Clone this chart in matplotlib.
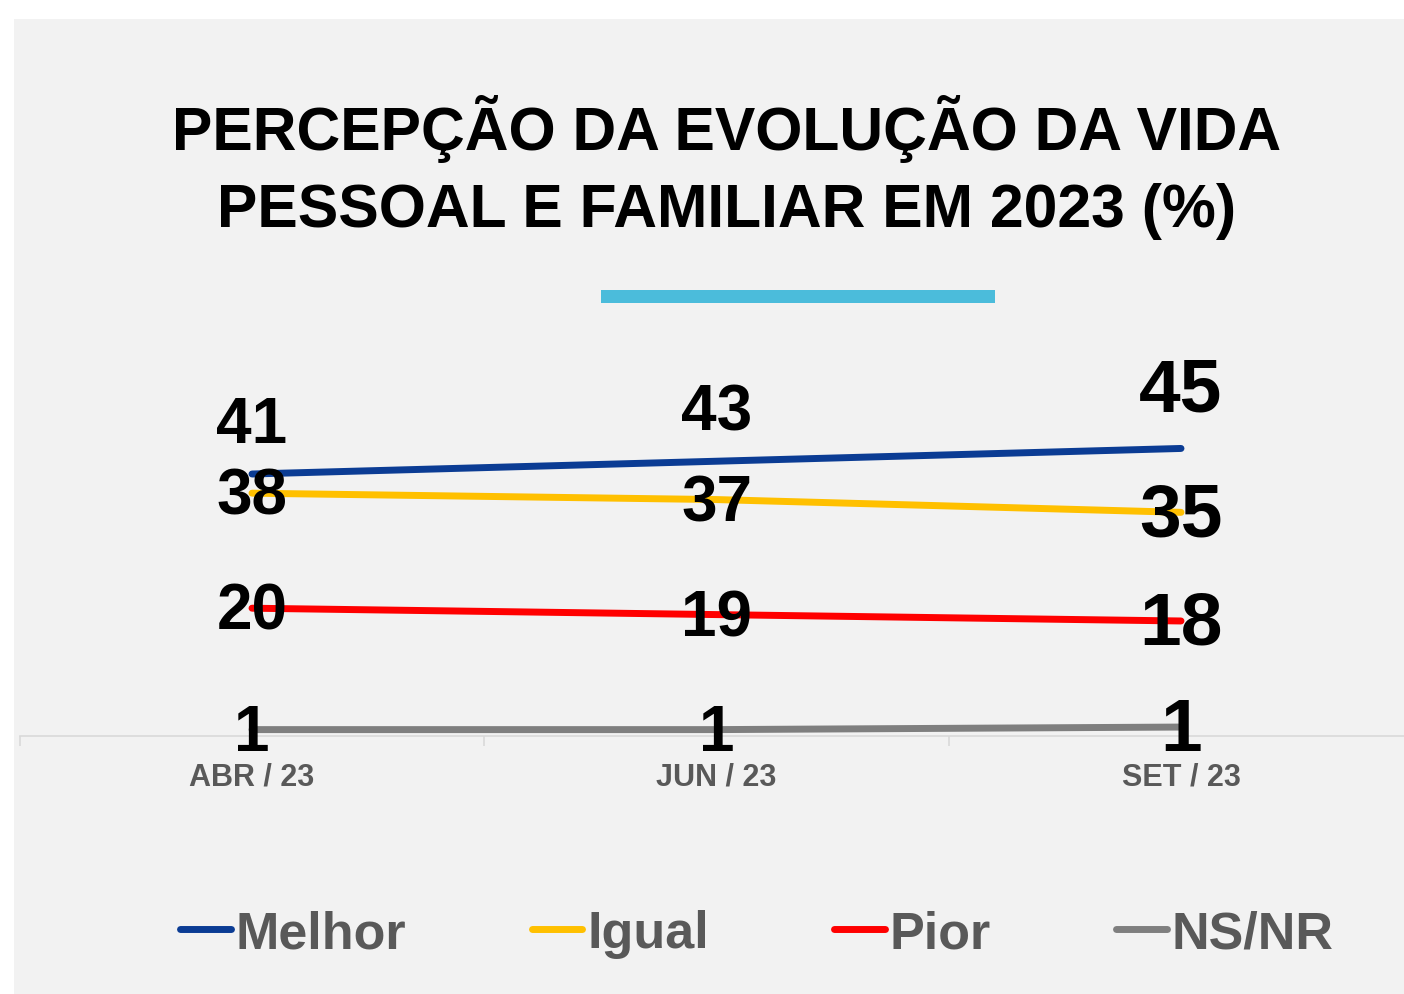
"""
Percepção da evolução da vida pessoal e familiar em 2023
"""

import matplotlib
matplotlib.use("Agg")
import matplotlib.pyplot as plt
from matplotlib.patches import Rectangle

plt.rcParams["font.family"] = ["Liberation Sans", "DejaVu Sans"]

# data
periods = ["ABR / 23", "JUN / 23", "SET / 23"]
melhor = [41, 43, 45]
igual = [38, 37, 35]
pior = [20, 19, 18]
nsnr = [1, 1, 1.4]

series_names = ["Melhor", "Igual", "Pior", "NS/NR"]
series_colors = ["#0B3C94", "#FFC000", "#FF0000", "#7F7F7F"]
label_sizes = [46, 46, 54]

title_1 = "PERCEPÇÃO DA EVOLUÇÃO DA VIDA"
title_2 = "PESSOAL E FAMILIAR EM 2023 (%)"

W, H = 1404, 995


def fx(px):
    return px / W


def fy(py):
    return 1 - py / H


fig = plt.figure(figsize=(W / 100, H / 100), dpi=100, facecolor="white")

# grey panel and the cyan accent bar
fig.patches.append(Rectangle((fx(14), 0), fx(W) - fx(14), fy(20), transform=fig.transFigure,
                             facecolor="#F2F2F2", edgecolor="none", zorder=-5))
fig.patches.append(Rectangle((fx(601), fy(303.5)), fx(995) - fx(601), 13 / H,
                             transform=fig.transFigure, facecolor="#4BBCDB",
                             edgecolor="none", zorder=1))

fig.text(fx(727), fy(150), title_1, ha="center", va="baseline",
         fontsize=43.7, fontweight="bold", color="black")
fig.text(fx(727), fy(227), title_2, ha="center", va="baseline",
         fontsize=43.7, fontweight="bold", color="black")

ax = fig.add_axes([fx(19.75), fy(737), (1413.25 - 19.75) / W, 319.5 / H])
ax.set_facecolor("none")
ax.set_zorder(2)

x = list(range(len(periods)))
all_series = [melhor, igual, pior, nsnr]
lines = []
for name, vals, col in zip(series_names, all_series, series_colors):
    ln, = ax.plot(x, vals, color=col, lw=5, solid_capstyle="round", label=name, zorder=3)
    lines.append(ln)

# value labels
for i, v in enumerate(melhor):
    s = label_sizes[i]
    ax.annotate(f"{v:.0f}", (x[i], v), xytext=(0, s * 0.5), textcoords="offset points",
                ha="center", va="baseline", fontsize=s, fontweight="bold",
                color="black", zorder=5)
for vals in [igual, pior, nsnr]:
    for i, v in enumerate(vals):
        ax.annotate(f"{v:.0f}", (x[i], v), xytext=(0, -2.5), textcoords="offset points",
                    ha="center", va="center", fontsize=label_sizes[i],
                    fontweight="bold", color="black", zorder=5)

ax.set_xlim(-0.5, 2.5)
ax.set_ylim(0, 50)
for side in ["left", "right", "top"]:
    ax.spines[side].set_visible(False)
ax.spines["bottom"].set_color("#D9D9D9")
ax.spines["bottom"].set_linewidth(1.2)
ax.set_yticks([])
ax.set_xticks(x)
ax.set_xticklabels(periods, fontsize=22, fontweight="bold", color="#595959")
ax.set_xticks([-0.5, 0.5, 1.5, 2.5], minor=True)
ax.tick_params(axis="x", which="major", length=0, pad=18)
ax.tick_params(axis="x", which="minor", length=7, width=1.2, color="#D9D9D9")

fig.legend(handles=lines, labels=series_names, loc="center",
           bbox_to_anchor=(fx(757), fy(935)), ncol=4, frameon=False,
           prop={"size": 37.5, "weight": "bold"}, labelcolor="#595959",
           handlelength=0.97, handletextpad=0.1, columnspacing=2.4,
           borderpad=0, borderaxespad=0)

fig.savefig("out.png", dpi=100, facecolor="white")
